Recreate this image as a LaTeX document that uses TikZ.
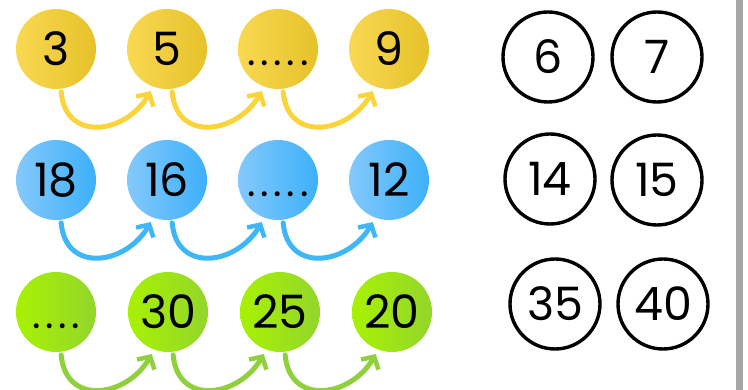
\documentclass[tikz,border=0pt]{standalone}
\usepackage{fontspec}
\setmainfont{Poppins}
\usetikzlibrary{arrows.meta}
\definecolor{sunlight}{HTML}{f9d952}
\definecolor{sunshade}{HTML}{e6c12a}
\definecolor{skylight}{HTML}{84c9fb}
\definecolor{skyshade}{HTML}{3db0fa}
\definecolor{limelight}{HTML}{a8f104}
\definecolor{limeshade}{HTML}{93d62c}
\definecolor{sunarrow}{HTML}{fad43a}
\definecolor{skyarrow}{HTML}{3fb6f8}
\definecolor{limearrow}{HTML}{8fd03c}
\definecolor{railgray}{HTML}{a6a6a6}

\begin{document}
\begin{tikzpicture}[x=1pt, y=1pt,
  ball/.style={circle, minimum size=80pt, inner sep=0pt,
    text height=33pt, text depth=0pt, font=\fontsize{46}{46}\selectfont},
  sunball/.style={ball, left color=sunlight, right color=sunshade},
  skyball/.style={ball, left color=skylight, right color=skyshade},
  limeball/.style={ball, left color=limelight, right color=limeshade},
  gap/.style={font=\fontsize{40}{40}\selectfont\addfontfeatures{LetterSpace=12}},
  pick/.style={circle, draw, line width=3.4pt, minimum size=90pt, inner sep=0pt,
    text height=33pt, text depth=0pt, font=\fontsize{46}{46}\selectfont},
  hop/.style={line width=5pt, line cap=round,
    -{Straight Barb[length=9pt, width=20pt, line width=4.5pt]},
    shorten <=3pt, shorten >=5pt, looseness=1.5}]
  \useasboundingbox (0,0) rectangle (748,390);

  % yellow row
  \node[sunball] (s1) at (56,341)  {3};
  \node[sunball] (s2) at (167,341) {5};
  \node[sunball, gap] (s3) at (278,341) {.....};
  \node[sunball] (s4) at (389,341) {9};
  \draw[hop, sunarrow] (s1.-83) to[out=-85, in=240] (s2.250);
  \draw[hop, sunarrow] (s2.-83) to[out=-85, in=240] (s3.250);
  \draw[hop, sunarrow] (s3.-83) to[out=-85, in=240] (s4.250);

  % blue row
  \node[skyball] (b1) at (56,210)  {18};
  \node[skyball] (b2) at (167,210) {16};
  \node[skyball, gap] (b3) at (278,210) {.....};
  \node[skyball] (b4) at (389,210) {12};
  \draw[hop, skyarrow] (b1.-83) to[out=-85, in=240] (b2.250);
  \draw[hop, skyarrow] (b2.-83) to[out=-85, in=240] (b3.250);
  \draw[hop, skyarrow] (b3.-83) to[out=-85, in=240] (b4.250);

  % green row
  \node[limeball, gap] (g1) at (56,78)  {....};
  \node[limeball] (g2) at (168,78) {30};
  \node[limeball] (g3) at (280,78) {25};
  \node[limeball] (g4) at (392,78) {20};
  \draw[hop, limearrow] (g1.-83) to[out=-85, in=240] (g2.250);
  \draw[hop, limearrow] (g2.-83) to[out=-85, in=240] (g3.250);
  \draw[hop, limearrow] (g3.-83) to[out=-85, in=240] (g4.250);

  % answers
  \node[pick] (a6)  at (548,333) {6};
  \node[pick] (a7)  at (657,333) {7};
  \node[pick] (a14) at (550,211) {14};
  \node[pick] (a15) at (657,210) {15};
  \node[pick] (a35) at (555,86)  {35};
  \node[pick] (a40) at (663,86)  {40};

  % edge
  \fill[railgray] (736,0) rectangle (743,390);
\end{tikzpicture}
\end{document}
